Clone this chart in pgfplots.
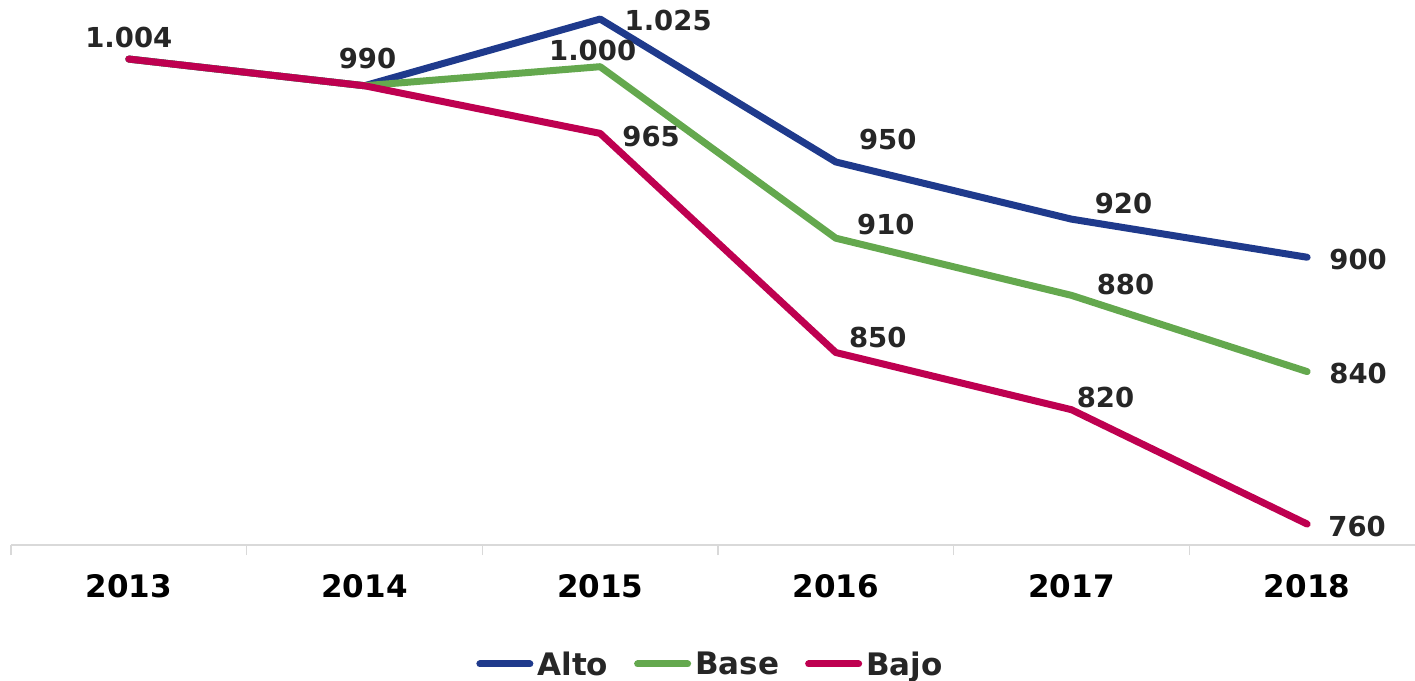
\documentclass[border=0pt]{standalone}
\usepackage{pgfplots}
\pgfplotsset{compat=1.18}
\usepackage{fontspec}
\setmainfont{DejaVu Sans}
\definecolor{alto}{HTML}{1F3A8C}
\definecolor{base}{HTML}{64A84E}
\definecolor{bajo}{HTML}{BE0050}
\definecolor{lbl}{HTML}{262626}
\definecolor{axgray}{HTML}{D9D9D9}
\begin{document}
\begin{tikzpicture}
\useasboundingbox (0,0) rectangle (1415pt,680pt);
\begin{axis}[
  at={(11pt,135pt)}, anchor=south west,
  scale only axis, width=1414pt, height=545pt,
  xmin=-0.5, xmax=5.5, ymin=749, ymax=1035,
  axis x line=bottom, axis y line=none,
  axis line style={axgray, line width=2pt, -},
  xtick={0,1,2,3,4,5}, xticklabels={2013,2014,2015,2016,2017,2018},
  major tick length=0pt,
  minor xtick={-0.5,0.5,1.5,2.5,3.5,4.5,5.5},
  minor tick length=10pt, tick align=outside,
  minor tick style={axgray, line width=1.5pt},
  xticklabel style={font=\fontsize{31}{36}\selectfont\bfseries, anchor=center, yshift=-41pt, text=black},
  ytick=\empty,
  clip=false,
  legend columns=3,
  legend style={at={(0.494,-0.2183)}, anchor=center, draw=none, fill=none,
    font=\fontsize{31}{36}\selectfont\bfseries, text=lbl,
    nodes={inner sep=0pt, inner xsep=0pt},
    /tikz/every odd column/.append style={column sep=4pt},
    /tikz/every even column/.append style={column sep=26pt}},
  legend image code/.code={\draw[#1, line width=7pt, line cap=round] (3.5pt,0pt) -- (53.5pt,0pt);},
  every axis plot/.append style={line width=7pt, line cap=round, line join=round},
]
\addplot[alto] coordinates {(0,1004) (1,990) (2,1025) (3,950) (4,920) (5,900)};
\addlegendentry{Alto}
\addplot[base] coordinates {(0,1004) (1,990) (2,1000) (3,910) (4,880) (5,840)};
\addlegendentry{Base}
\addplot[bajo] coordinates {(0,1004) (1,990) (2,965) (3,850) (4,820) (5,760)};
\addlegendentry{Bajo}

\tikzset{dl/.style={font=\fontsize{27.5}{32}\selectfont\bfseries, text=lbl, anchor=center, inner sep=0pt}}
\node[dl, xshift=0pt,  yshift=21.5pt] at (axis cs:0,1004) {1.004};
\node[dl, xshift=3pt,  yshift=27pt]   at (axis cs:1,990)  {990};
\node[dl, xshift=68pt, yshift=-1pt]   at (axis cs:2,1025) {1.025};
\node[dl, xshift=-7.5pt, yshift=16pt] at (axis cs:2,1000) {1.000};
\node[dl, xshift=51pt, yshift=-3pt]   at (axis cs:2,965)  {965};
\node[dl, xshift=52pt, yshift=22pt]   at (axis cs:3,950)  {950};
\node[dl, xshift=50pt, yshift=14pt]   at (axis cs:3,910)  {910};
\node[dl, xshift=42pt, yshift=15.5pt] at (axis cs:3,850)  {850};
\node[dl, xshift=52pt, yshift=16pt]   at (axis cs:4,920)  {920};
\node[dl, xshift=54pt, yshift=11pt]   at (axis cs:4,880)  {880};
\node[dl, xshift=34pt, yshift=12pt]   at (axis cs:4,820)  {820};
\node[dl, xshift=51pt, yshift=-2pt]   at (axis cs:5,900)  {900};
\node[dl, xshift=51pt, yshift=-2pt]   at (axis cs:5,840)  {840};
\node[dl, xshift=50pt, yshift=-2pt]   at (axis cs:5,760)  {760};
\end{axis}
\end{tikzpicture}
\end{document}
